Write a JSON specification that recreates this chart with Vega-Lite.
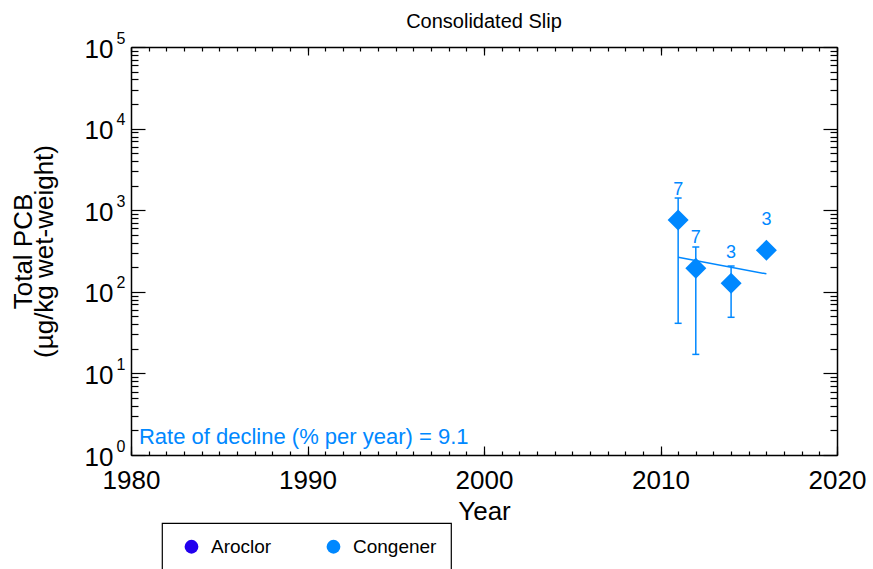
{
  "$schema": "https://vega.github.io/schema/vega-lite/v6.json",
  "autosize": "none",
  "width": 706,
  "height": 408,
  "padding": {"left": 131, "top": 47, "right": 36, "bottom": 114},
  "background": "white",
  "title": {"text": "Consolidated Slip", "fontSize": 20, "fontWeight": "normal", "font": "Liberation Sans", "color": "black", "offset": -2},
  "config": {
    "font": "Liberation Sans",
    "view": {"stroke": null},
    "axis": {"grid": false, "labelColor": "black", "titleColor": "black", "domainColor": "black", "tickColor": "black", "labelFont": "Liberation Sans", "titleFont": "Liberation Sans", "titleFontWeight": "normal", "labelOverlap": false, "labelFlush": false, "domainWidth": 1.5, "tickWidth": 1.2},
    "legend": {"orient": "none", "legendX": 31, "legendY": 476, "direction": "horizontal", "strokeColor": "black", "strokeWidth": 1.2, "padding": 14, "symbolType": "circle", "symbolSize": 190, "symbolOffset": 6, "labelFontSize": 19, "labelFont": "Liberation Sans", "labelColor": "black", "labelOffset": 10, "columnPadding": 46, "symbolOpacity": 1, "symbolStrokeWidth": 0}
  },
  "data": {"values": [
    {"year": 2011, "pcb": 759, "lo": 41.1, "hi": 1410, "n": 7, "labelAt": 1535, "method": "Congener"},
    {"year": 2012, "pcb": 194, "lo": 17.1, "hi": 354, "n": 7, "labelAt": 396, "method": "Congener"},
    {"year": 2014, "pcb": 127, "lo": 48.7, "hi": 207, "n": 3, "labelAt": 260, "method": "Congener"},
    {"year": 2016, "pcb": 323, "lo": null, "hi": null, "n": 3, "labelAt": 659, "method": "Congener"}
  ]},
  "resolve": {"axis": {"x": "independent", "y": "independent"}},
  "layer": [
    {
      "transform": [{"filter": "datum.hi != null"}],
      "mark": {"type": "rule", "color": "#0088ff", "strokeWidth": 1.5},
      "encoding": {
        "x": {"field": "year", "type": "quantitative", "scale": {"domain": [1980, 2020], "nice": false, "zero": false},
              "axis": {"orient": "bottom", "values": [1980, 1990, 2000, 2010, 2020], "format": "d", "ticks": false, "labelFontSize": 26, "labelPadding": 12, "domain": true, "title": "Year", "titleFontSize": 26, "titlePadding": 5}},
        "y": {"field": "lo", "type": "quantitative", "scale": {"type": "log", "domain": [1, 100000], "nice": false},
              "axis": {"orient": "left", "values": [1, 10, 100, 1000, 10000, 100000], "labelExpr": "'10'", "ticks": false, "labelFontSize": 26, "labelPadding": 18, "labelOffset": 2, "domain": true, "title": ["Total PCB", "(µg/kg wet-weight)"], "titleFontSize": 26, "titleLineHeight": 21, "titlePadding": 27}},
        "y2": {"field": "hi"}
      }
    },
    {
      "transform": [{"filter": "datum.hi != null"}],
      "mark": {"type": "point", "shape": "M-1,0L1,0", "filled": false, "size": 49, "color": "#0088ff", "strokeWidth": 1.5, "opacity": 1},
      "encoding": {
        "x": {"field": "year", "type": "quantitative",
              "axis": {"orient": "bottom", "values": [1980, 1990, 2000, 2010, 2020], "labels": false, "domain": false, "tickSize": -9, "title": null}},
        "y": {"field": "hi", "type": "quantitative",
              "axis": {"orient": "left", "values": [1, 10, 100, 1000, 10000, 100000], "labelExpr": "round(log(datum.value)/LN10) + ''", "ticks": false, "domain": false, "labelFontSize": 16, "labelPadding": 6, "labelOffset": -9, "title": null}}
      }
    },
    {
      "transform": [{"filter": "datum.lo != null"}],
      "mark": {"type": "point", "shape": "M-1,0L1,0", "filled": false, "size": 49, "color": "#0088ff", "strokeWidth": 1.5, "opacity": 1},
      "encoding": {
        "x": {"field": "year", "type": "quantitative",
              "axis": {"orient": "bottom", "values": [1980,1981,1982,1983,1984,1985,1986,1987,1988,1989,1990,1991,1992,1993,1994,1995,1996,1997,1998,1999,2000,2001,2002,2003,2004,2005,2006,2007,2008,2009,2010,2011,2012,2013,2014,2015,2016,2017,2018,2019,2020], "labels": false, "domain": false, "tickSize": -4, "title": null}},
        "y": {"field": "lo", "type": "quantitative",
              "axis": {"orient": "left", "values": [1, 10, 100, 1000, 10000, 100000], "labels": false, "domain": false, "tickSize": -14, "title": null}}
      }
    },
    {
      "data": {"values": [{"year": 2011, "fit": 265}, {"year": 2016, "fit": 166}]},
      "mark": {"type": "line", "color": "#0088ff", "strokeWidth": 1.5},
      "encoding": {
        "x": {"field": "year", "type": "quantitative",
              "axis": {"orient": "top", "values": [1980, 1990, 2000, 2010, 2020], "labels": false, "domain": true, "tickSize": -8, "title": null}},
        "y": {"field": "fit", "type": "quantitative",
              "axis": {"orient": "left", "values": [2,3,4,5,6,7,8,9,20,30,40,50,60,70,80,90,200,300,400,500,600,700,800,900,2000,3000,4000,5000,6000,7000,8000,9000,20000,30000,40000,50000,60000,70000,80000,90000], "labels": false, "domain": false, "tickSize": -7, "title": null}}
      }
    },
    {
      "mark": {"type": "point", "shape": "diamond", "filled": true, "size": 441, "opacity": 1},
      "encoding": {
        "x": {"field": "year", "type": "quantitative",
              "axis": {"orient": "top", "values": [1980,1981,1982,1983,1984,1985,1986,1987,1988,1989,1990,1991,1992,1993,1994,1995,1996,1997,1998,1999,2000,2001,2002,2003,2004,2005,2006,2007,2008,2009,2010,2011,2012,2013,2014,2015,2016,2017,2018,2019,2020], "labels": false, "domain": false, "tickSize": -4, "title": null}},
        "y": {"field": "pcb", "type": "quantitative",
              "axis": {"orient": "right", "values": [1, 10, 100, 1000, 10000, 100000], "labels": false, "domain": true, "tickSize": -14, "title": null}},
        "color": {"field": "method", "type": "nominal", "scale": {"domain": ["Aroclor", "Congener"], "range": ["#2200ee", "#0088ff"]}, "legend": {"title": null}}
      }
    },
    {
      "mark": {"type": "text", "color": "#0088ff", "fontSize": 18, "baseline": "alphabetic", "align": "center", "font": "Liberation Sans"},
      "encoding": {
        "x": {"field": "year", "type": "quantitative", "axis": null},
        "y": {"field": "labelAt", "type": "quantitative",
              "axis": {"orient": "right", "values": [2,3,4,5,6,7,8,9,20,30,40,50,60,70,80,90,200,300,400,500,600,700,800,900,2000,3000,4000,5000,6000,7000,8000,9000,20000,30000,40000,50000,60000,70000,80000,90000], "labels": false, "domain": false, "tickSize": -7, "title": null}},
        "text": {"field": "n", "type": "quantitative"}
      }
    },
    {
      "data": {"values": [{"note": "Rate of decline (% per year) = 9.1"}]},
      "mark": {"type": "text", "color": "#0088ff", "fontSize": 22, "baseline": "alphabetic", "align": "left", "font": "Liberation Sans"},
      "encoding": {
        "x": {"datum": 1980.45, "type": "quantitative", "axis": null},
        "y": {"datum": 1.364, "type": "quantitative", "axis": null},
        "text": {"field": "note", "type": "nominal"}
      }
    }
  ]
}
